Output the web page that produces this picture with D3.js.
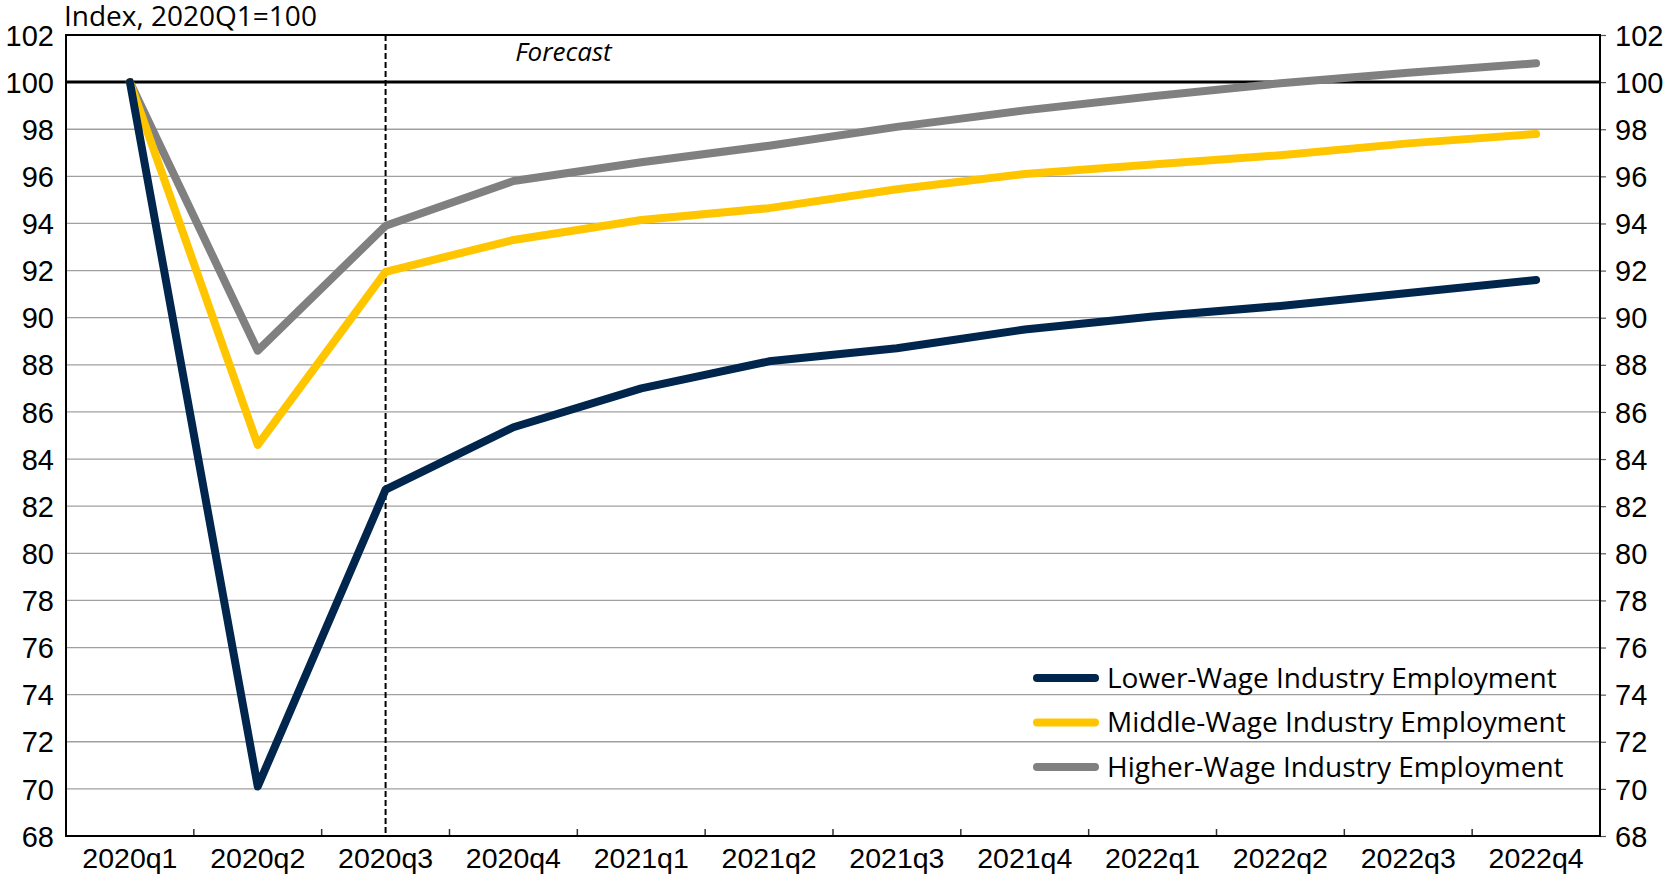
<!DOCTYPE html>
<html>
<head>
<meta charset="utf-8">
<script src="https://cdn.jsdelivr.net/npm/d3@7"></script>
<style>
  body { margin: 0; background: #fff; }
  svg { display: block; font-family: "Open Sans", sans-serif; }
</style>
</head>
<body>
<svg id="chart" width="1669" height="877"></svg>
<script>
// quarters on the x axis
const quarters = ['2020q1', '2020q2', '2020q3', '2020q4', '2021q1', '2021q2',
    '2021q3', '2021q4', '2022q1', '2022q2', '2022q3', '2022q4'];

// index values, 2020Q1 = 100
const lowerWage  = [100, 70.1, 82.7, 85.35, 87.0, 88.15, 88.7, 89.5, 90.05, 90.5, 91.05, 91.6];
const middleWage = [100, 84.6, 91.95, 93.3, 94.15, 94.65, 95.45, 96.1, 96.5, 96.9, 97.4, 97.8];
const higherWage = [100, 88.6, 93.9, 95.8, 96.6, 97.3, 98.1, 98.8, 99.4, 99.95, 100.4, 100.8];

const yTicks = d3.range(68, 103, 2);
const seriesNames = ['Lower-Wage Industry Employment', 'Middle-Wage Industry Employment', 'Higher-Wage Industry Employment'];
const seriesColors = ['#00264d', '#ffc600', '#808080'];
const forecastStart = '2020q3';

const margin = { top: 35, right: 69, bottom: 41, left: 66 };
const svg = d3.select('#chart');
const width = +svg.attr('width') - margin.left - margin.right;
const height = +svg.attr('height') - margin.top - margin.bottom;

const g = svg.append('g').attr('transform', `translate(${margin.left},${margin.top})`);

const x = d3.scaleBand().domain(quarters).range([0, width]);
const y = d3.scaleLinear().domain([68, 102]).range([height, 0]);
const xc = q => x(q) + x.bandwidth() / 2;

// gridlines
g.append('g')
    .selectAll('line')
    .data(yTicks.filter(t => t !== 68 && t !== 102 && t !== 100))
    .enter()
    .append('line')
    .attr('x1', 0).attr('x2', width)
    .attr('y1', d => y(d)).attr('y2', d => y(d))
    .style('stroke', '#a0a0a0')
    .style('stroke-width', 1.3);

// 100 reference line
g.append('line')
    .attr('x1', 0).attr('x2', width)
    .attr('y1', y(100)).attr('y2', y(100))
    .style('stroke', '#000')
    .style('stroke-width', 3);

// forecast divider
g.append('line')
    .attr('x1', xc(forecastStart)).attr('x2', xc(forecastStart))
    .attr('y1', 0).attr('y2', height)
    .style('stroke', '#000')
    .style('stroke-width', 2)
    .style('stroke-dasharray', '6,3');

g.append('text')
    .attr('x', xc('2020q4') + 50)
    .attr('y', 26)
    .attr('text-anchor', 'middle')
    .style('font-style', 'italic')
    .style('font-size', '26px')
    .text('Forecast');

// left axis: labels only
const leftAxis = g.append('g')
    .call(d3.axisLeft(y).tickValues(yTicks).tickSize(0).tickPadding(12));
leftAxis.select('.domain').remove();
leftAxis.selectAll('text').style('font-size', '29px').style('fill', '#000').attr('dy', '0.35em');

// right axis with outward ticks
const rightAxis = g.append('g')
    .attr('transform', `translate(${width},0)`)
    .call(d3.axisRight(y).tickValues(yTicks).tickSize(6).tickPadding(9));
rightAxis.select('.domain').remove();
rightAxis.selectAll('line').style('stroke', '#555').style('stroke-width', 1.2);
rightAxis.selectAll('text').style('font-size', '29px').style('fill', '#000').attr('dy', '0.35em');

// bottom axis, ticks between categories pointing up
const bottomAxis = g.append('g')
    .attr('transform', `translate(0,${height})`)
    .call(d3.axisBottom(x).tickSize(0).tickPadding(11));
bottomAxis.select('.domain').remove();
bottomAxis.selectAll('text').style('font-size', '28.5px').style('fill', '#000').attr('dy', '0.72em');

g.append('g')
    .selectAll('line')
    .data(quarters.slice(1))
    .enter()
    .append('line')
    .attr('x1', d => x(d)).attr('x2', d => x(d))
    .attr('y1', height).attr('y2', height - 7)
    .style('stroke', '#333')
    .style('stroke-width', 1.5);

// frame
g.append('rect')
    .attr('width', width).attr('height', height)
    .style('fill', 'none')
    .style('stroke', '#000')
    .style('stroke-width', 2);

// y axis title
svg.append('text')
    .attr('x', 64)
    .attr('y', 26)
    .style('font-size', '28px')
    .text('Index, 2020Q1=100');

// lines
const line = d3.line()
    .x((d, i) => xc(quarters[i]))
    .y(d => y(d));

const allSeries = [higherWage, middleWage, lowerWage];
const allColors = [seriesColors[2], seriesColors[1], seriesColors[0]];
allSeries.forEach((s, i) => {
    g.append('path')
        .datum(s)
        .attr('d', line)
        .style('fill', 'none')
        .style('stroke', allColors[i])
        .style('stroke-width', 8)
        .style('stroke-linejoin', 'round')
        .style('stroke-linecap', 'round');
});

// legend
const legend = g.append('g').attr('transform', `translate(${1037 - margin.left},${678 - margin.top})`);
seriesNames.forEach((name, i) => {
    const row = legend.append('g').attr('transform', `translate(0,${i * 44.5})`);
    row.append('line')
        .attr('x1', 0).attr('x2', 58)
        .attr('y1', 0).attr('y2', 0)
        .style('stroke', seriesColors[i])
        .style('stroke-width', 8)
        .style('stroke-linecap', 'round');
    row.append('text')
        .attr('x', 70)
        .attr('y', 0)
        .attr('dy', '0.35em')
        .style('font-size', '28px')
        .text(name);
});
</script>
</body>
</html>
